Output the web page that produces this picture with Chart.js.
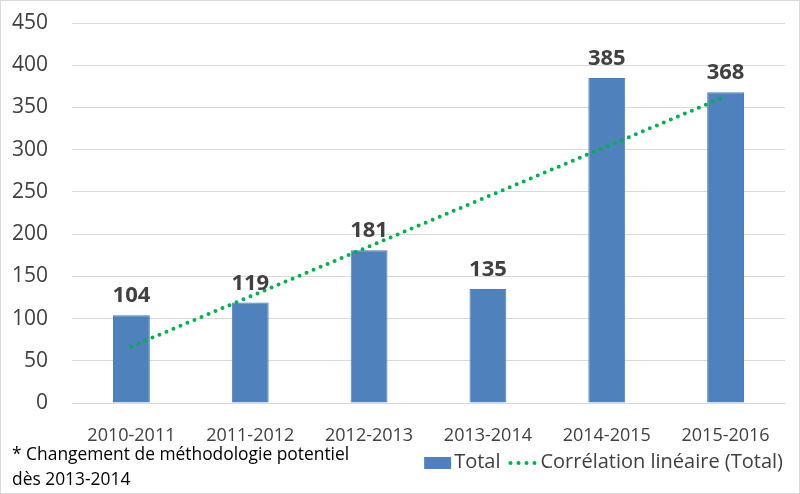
<!DOCTYPE html>
<html>
<head>
<meta charset="utf-8">
<script src="https://cdn.jsdelivr.net/npm/chart.js@4"></script>
<style>
html,body{margin:0;padding:0;background:#fff;}
#wrap{position:relative;width:800px;height:494px;}
</style>
</head>
<body>
<div id="wrap"><canvas id="c" width="800" height="494"></canvas></div>
<script>
const categories = ['2010-2011','2011-2012','2012-2013','2013-2014','2014-2015','2015-2016'];
const totals = [104, 119, 181, 135, 385, 368];
const trend = [67, null, null, null, null, 363];
const yTicks = [0, 50, 100, 150, 200, 250, 300, 350, 400, 450];
const footnoteLines = ['* Changement de méthodologie potentiel', 'dès 2013-2014'];
const legendLabels = ['Total', 'Corrélation linéaire (Total)'];

const FONT = '"Open Sans", "Noto Sans", sans-serif';
const BLUE = '#4f81bd';
const GREEN = '#00b050';
const TEXT = '#404040';

const extras = {
  id: 'extras',
  afterDatasetsDraw(chart) {
    const ctx = chart.ctx;
    const meta = chart.getDatasetMeta(1);
    ctx.save();
    ctx.fillStyle = TEXT;
    ctx.font = 'bold 22px ' + FONT;
    ctx.textAlign = 'center';
    ctx.textBaseline = 'alphabetic';
    meta.data.forEach((bar, i) => {
      ctx.fillText(String(totals[i]), bar.x, bar.y - 13);
    });
    ctx.restore();
  },
  afterDraw(chart) {
    const ctx = chart.ctx;
    ctx.save();
    // outer border
    ctx.strokeStyle = '#d9d9d9';
    ctx.lineWidth = 1;
    ctx.strokeRect(0.5, 0.5, chart.width - 1, chart.height - 1);
    // footnote
    ctx.fillStyle = '#000';
    ctx.font = '17.4px ' + FONT;
    ctx.textAlign = 'left';
    ctx.textBaseline = 'middle';
    ctx.fillText(footnoteLines[0], 12, 455);
    ctx.fillText(footnoteLines[1], 12, 480);
    // legend
    ctx.font = '20px ' + FONT;
    ctx.fillStyle = TEXT;
    const y = 462;
    const right = 783;
    const w2 = ctx.measureText(legendLabels[1]).width;
    const x2 = right - w2;
    ctx.fillText(legendLabels[1], x2, y);
    // dotted sample
    ctx.strokeStyle = GREEN;
    ctx.lineWidth = 4;
    ctx.lineCap = 'round';
    ctx.setLineDash([0, 8]);
    ctx.beginPath();
    ctx.moveTo(x2 - 30, y + 1);
    ctx.lineTo(x2 - 4, y + 1);
    ctx.stroke();
    ctx.setLineDash([]);
    const w1 = ctx.measureText(legendLabels[0]).width;
    const x1 = x2 - 40 - w1;
    ctx.fillStyle = TEXT;
    ctx.fillText(legendLabels[0], x1, y);
    ctx.fillStyle = BLUE;
    ctx.fillRect(x1 - 30, y - 5, 27, 12);
    ctx.restore();
  }
};

new Chart(document.getElementById('c'), {
  data: {
    labels: categories,
    datasets: [
      {
        type: 'line',
        label: legendLabels[1],
        data: trend,
        spanGaps: true,
        borderColor: GREEN,
        borderWidth: 4,
        borderDash: [0, 7.6],
        borderCapStyle: 'round',
        pointRadius: 0,
        fill: false,
        order: 0
      },
      {
        type: 'bar',
        label: legendLabels[0],
        data: totals,
        backgroundColor: BLUE,
        borderColor: '#4a7dba',
        borderWidth: 1,
        categoryPercentage: 1,
        barPercentage: 0.31,
        order: 1
      }
    ]
  },
  options: {
    responsive: false,
    animation: false,
    devicePixelRatio: 1,
    layout: { padding: { top: 23, right: 15, bottom: 0, left: 0 } },
    plugins: { legend: { display: false }, tooltip: { enabled: false } },
    scales: {
      x: {
        grid: { display: false },
        border: { display: true, color: '#d9d9d9' },
        ticks: { color: TEXT, font: { family: FONT, size: 18 }, padding: 14, maxRotation: 0 },
        afterFit(s) { s.height = 91; }
      },
      y: {
        min: 0, max: 450,
        afterBuildTicks(s) { s.ticks = yTicks.map(v => ({ value: v })); },
        grid: { color: '#d9d9d9', lineWidth: 1, drawTicks: false },
        border: { display: false },
        ticks: { color: TEXT, font: { family: FONT, size: 21 }, padding: 24 },
        afterFit(s) { s.width = 72; s.paddingTop = 0; s.paddingBottom = 0; }
      }
    }
  },
  plugins: [extras]
});
</script>
</body>
</html>
